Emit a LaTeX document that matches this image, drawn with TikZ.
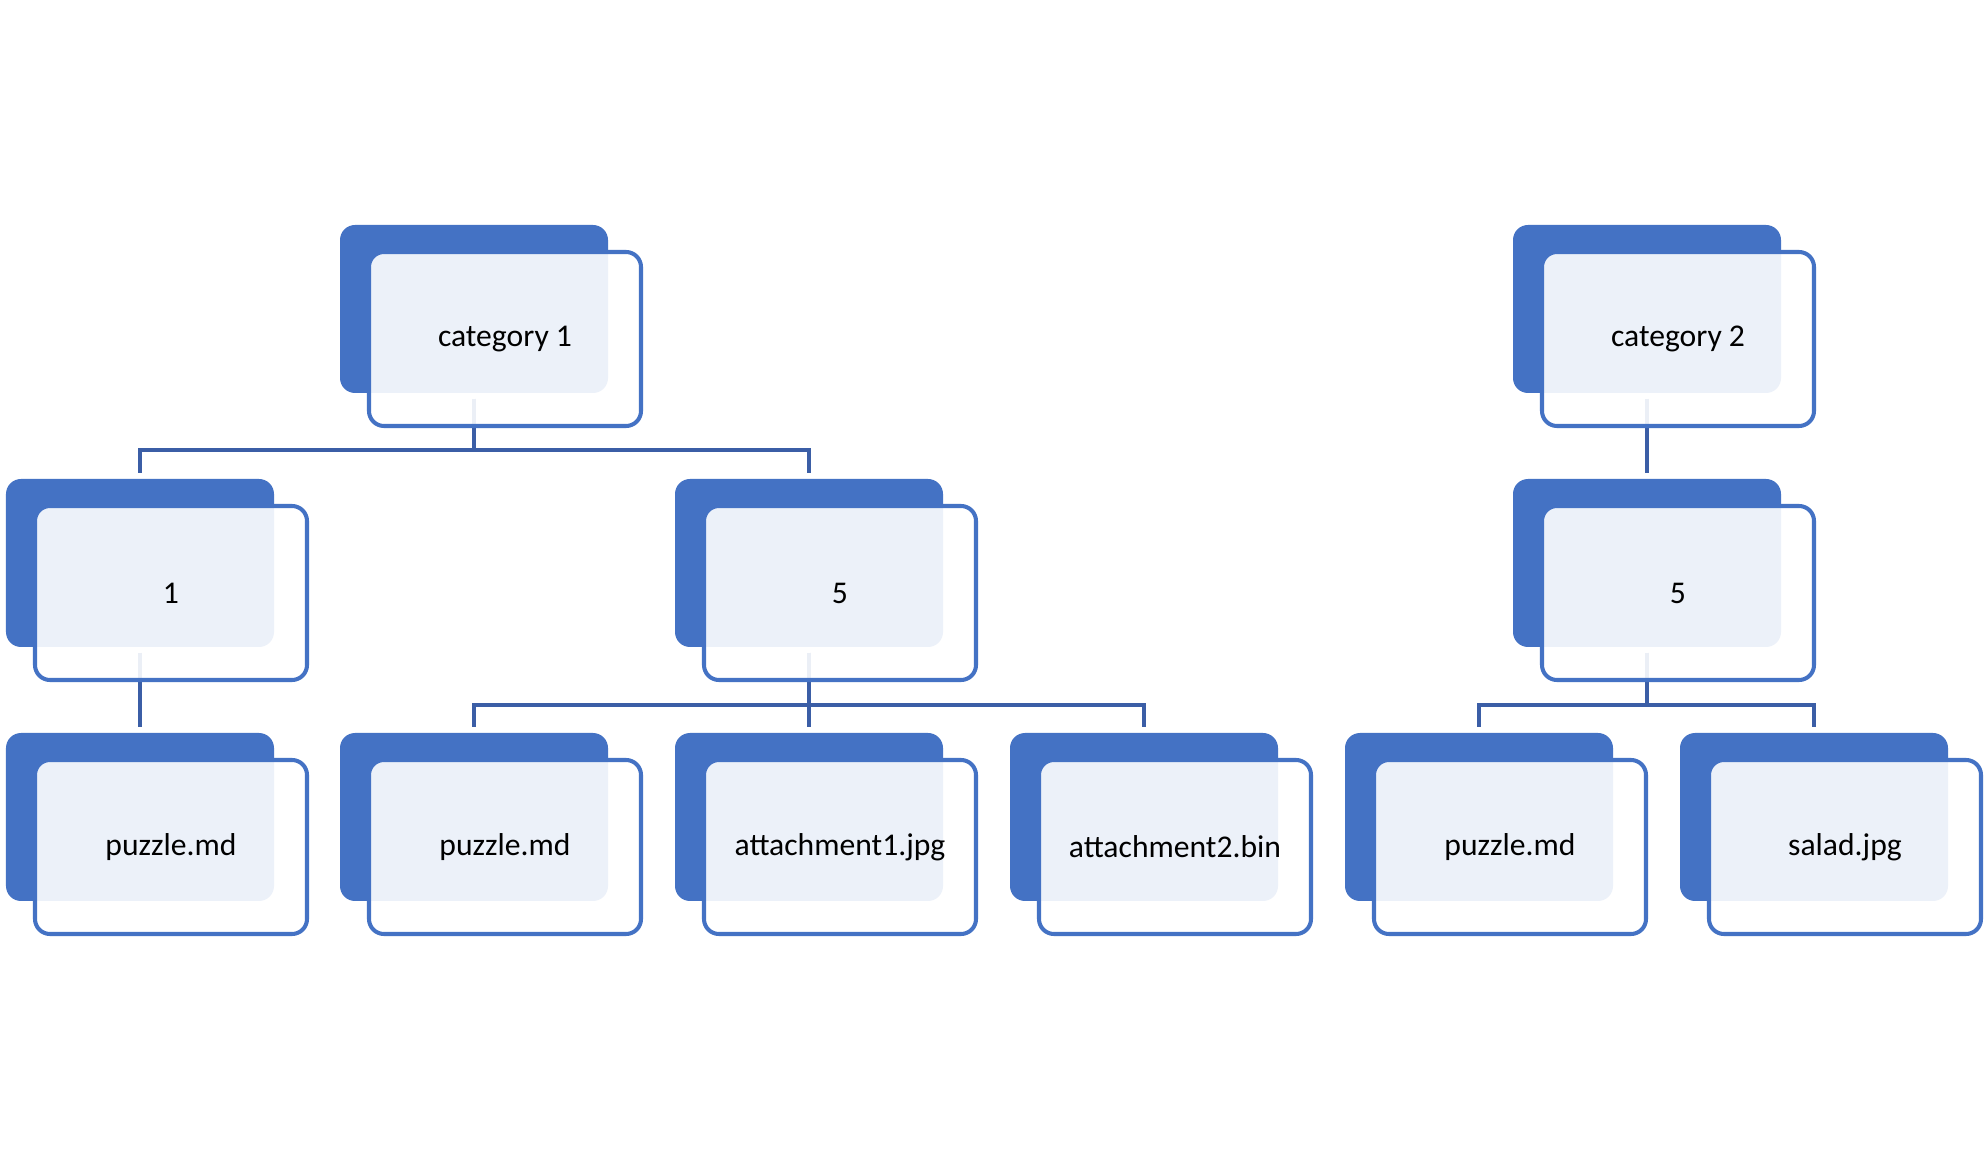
\documentclass[tikz,border=0pt]{standalone}
\usepackage{fontspec}
\setmainfont{Carlito}
\usepackage{tikz}
\definecolor{accent}{HTML}{4472C4}
\definecolor{linkblue}{HTML}{3B5EA6}
\tikzset{%
  backbox/.style  = {shape=rectangle, rounded corners=1.5mm, fill=accent,%
                     minimum width=2.68cm, minimum height=1.68cm, inner sep=0pt},%
  frontbox/.style = {shape=rectangle, rounded corners=1.5mm, draw=accent,%
                     line width=1.15pt, fill=white, fill opacity=0.9, text opacity=1,%
                     minimum width=2.72cm, minimum height=1.74cm, inner sep=0pt},%
  link/.style     = {draw=linkblue, line width=1.15pt}%
}

\begin{document}
\begin{tikzpicture}[every node/.style = {font=\fontsize{9}{11}\selectfont},
	front/.style={frontbox, at={([xshift=3.1mm,yshift=-3mm]#1.center)}}]
	\path[use as bounding box, fill=white] (0,0) rectangle (19.85,-11.55);
	% back plates
	\node [backbox] (c1b) at (4.74,-3.09) {};
	\node [backbox] (c2b) at (16.47,-3.09) {};
	\node [backbox] (n1b) at (1.40,-5.63) {};
	\node [backbox] (n5b) at (8.09,-5.63) {};
	\node [backbox] (m5b) at (16.47,-5.63) {};
	\node [backbox] (f1b) at (1.40,-8.17) {};
	\node [backbox] (f2b) at (4.74,-8.17) {};
	\node [backbox] (f3b) at (8.09,-8.17) {};
	\node [backbox] (f4b) at (11.44,-8.17) {};
	\node [backbox] (f5b) at (14.79,-8.17) {};
	\node [backbox] (f6b) at (18.14,-8.17) {};
	% connectors
	\draw [link] ([yshift=-0.5mm]c1b.south) -- ++(0,-0.51) -| ([yshift=0.5mm]n1b.north);
	\draw [link] ([yshift=-0.5mm]c1b.south) -- ++(0,-0.51) -| ([yshift=0.5mm]n5b.north);
	\draw [link] ([yshift=-0.5mm]c2b.south) -- ([yshift=0.5mm]m5b.north);
	\draw [link] ([yshift=-0.5mm]n1b.south) -- ([yshift=0.5mm]f1b.north);
	\draw [link] ([yshift=-0.5mm]n5b.south) -- ++(0,-0.52) -| ([yshift=0.5mm]f2b.north);
	\draw [link] ([yshift=-0.5mm]n5b.south) -- ([yshift=0.5mm]f3b.north);
	\draw [link] ([yshift=-0.5mm]n5b.south) -- ++(0,-0.52) -| ([yshift=0.5mm]f4b.north);
	\draw [link] ([yshift=-0.5mm]m5b.south) -- ++(0,-0.52) -| ([yshift=0.5mm]f5b.north);
	\draw [link] ([yshift=-0.5mm]m5b.south) -- ++(0,-0.52) -| ([yshift=0.5mm]f6b.north);
	% front cards
	\node [front=c1b] (c1) {category 1};
	\node [front=c2b] (c2) {category 2};
	\node [front=n1b] (n1) {1};
	\node [front=n5b] (n5) {5};
	\node [front=m5b] (m5) {5};
	\node [front=f1b] (f1) {puzzle.md};
	\node [front=f2b] (f2) {puzzle.md};
	\node [front=f3b] (f3) {attachment1.jpg};
	\node [front=f4b] (f4) {attachment2.bin};
	\node [front=f5b] (f5) {puzzle.md};
	\node [front=f6b] (f6) {salad.jpg};
\end{tikzpicture}
\end{document}
